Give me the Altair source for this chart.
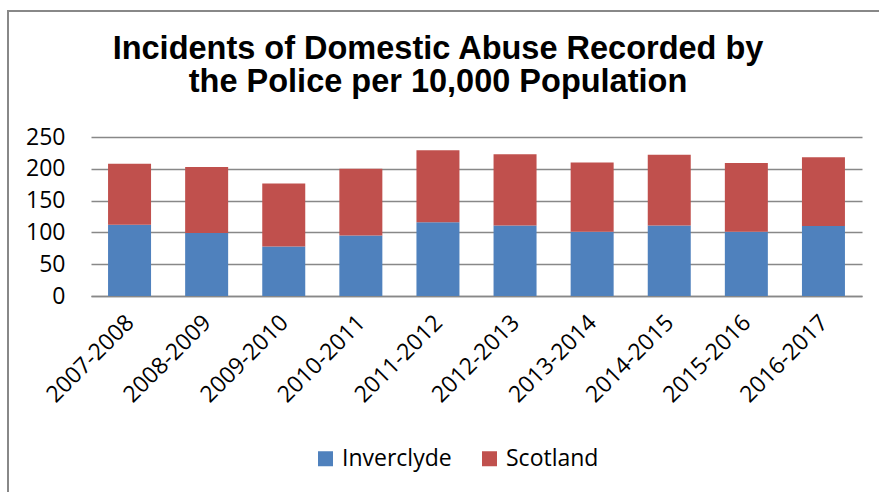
import altair as alt
import pandas as pd

years = ["2007-2008", "2008-2009", "2009-2010", "2010-2011", "2011-2012",
         "2012-2013", "2013-2014", "2014-2015", "2015-2016", "2016-2017"]
inverclyde = [112, 99, 78, 95, 116, 111, 101, 111, 101, 110]
scotland = [96, 104, 99, 105, 113, 112, 109, 111, 108, 108]
series = ["Inverclyde", "Scotland"]
colors = ["#4F81BD", "#C0504D"]
title_lines = ["Incidents of Domestic Abuse Recorded by", "the Police per 10,000 Population"]

rows = []
for i, y in enumerate(years):
    rows.append({"year": y, "series": "Inverclyde", "value": inverclyde[i], "ord": 0})
    rows.append({"year": y, "series": "Scotland", "value": scotland[i], "ord": 1})
df = pd.DataFrame(rows)

LABEL_FONT = "Open Sans"
FS = 23

bars = alt.Chart(df).mark_bar(size=43).encode(
    x=alt.X("year:N", sort=years, title=None,
            scale=alt.Scale(paddingInner=0.44, paddingOuter=0.22),
            axis=alt.Axis(labelAngle=-45, labelFont=LABEL_FONT, labelFontSize=FS,
                          labelColor="#000000", ticks=False, domain=True,
                          domainColor="#888888", domainWidth=1.5, labelPadding=15,
                          labelOffset=-7)),
    y=alt.Y("value:Q", title=None, stack="zero",
            scale=alt.Scale(domain=[0, 250], nice=False),
            axis=alt.Axis(values=[0, 50, 100, 150, 200, 250], labelFont=LABEL_FONT,
                          labelFontSize=FS, labelColor="#000000", ticks=False,
                          domain=False, grid=True, gridColor="#888888", gridWidth=1.5,
                          labelPadding=26)),
    color=alt.Color("series:N", scale=alt.Scale(domain=series, range=colors),
                    legend=alt.Legend(title=None, orient="none", legendX=223, legendY=310,
                                      direction="horizontal", symbolType="square",
                                      symbolSize=225, symbolStrokeWidth=0,
                                      labelFont=LABEL_FONT, labelFontSize=FS,
                                      labelColor="#000000", columnPadding=26,
                                      labelOffset=5)),
    order=alt.Order("ord:Q"),
)

frame_df = pd.DataFrame({"a": [0]})
left_edge = alt.Chart(frame_df).mark_rule(stroke="#888888", strokeWidth=2).encode(
    x=alt.value(-83), y=alt.value(-126), y2=alt.value(360)
)
top_edge = alt.Chart(frame_df).mark_rule(stroke="#888888", strokeWidth=2).encode(
    x=alt.value(-84), x2=alt.value(788), y=alt.value(-126)
)

title1 = alt.Chart(pd.DataFrame({"t": [title_lines[0]]})).mark_text(
    font="Liberation Sans", fontSize=32.5, fontWeight="bold", color="#000000",
    align="center", baseline="alphabetic"
).encode(text="t:N", x=alt.value(347), y=alt.value(-78))

title2 = alt.Chart(pd.DataFrame({"t": [title_lines[1]]})).mark_text(
    font="Liberation Sans", fontSize=32.5, fontWeight="bold", color="#000000",
    align="center", baseline="alphabetic"
).encode(text="t:N", x=alt.value(347), y=alt.value(-45))

chart = alt.layer(left_edge, top_edge, bars, title1, title2).properties(
    width=771, height=159,
    autosize=alt.AutoSizeParams(type="none"),
    padding={"left": 91, "top": 137, "right": 17, "bottom": 196},
).configure_view(stroke=None)

chart.save("out.html", embed_options={"renderer": "svg", "actions": False})
